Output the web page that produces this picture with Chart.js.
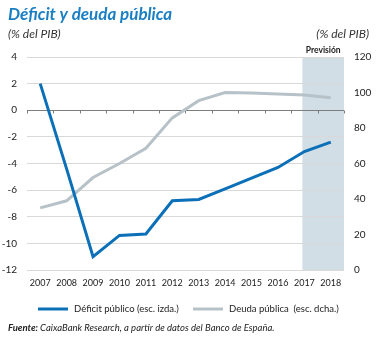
<!DOCTYPE html>
<html>
<head>
<meta charset="utf-8">
<script src="https://cdn.jsdelivr.net/npm/chart.js@4/dist/chart.umd.min.js"></script>
<style>
  html, body { margin: 0; padding: 0; background: #fff; }
  #wrap { position: relative; width: 379px; height: 338px; }
</style>
</head>
<body>
<div id="wrap"><canvas id="chart" width="379" height="338"></canvas></div>
<script>
// Déficit y deuda pública (% del PIB)
const years = ["2007", "2008", "2009", "2010", "2011", "2012", "2013", "2014", "2015", "2016", "2017", "2018"];
const deficit = [2.0, -4.4, -11.0, -9.4, -9.3, -6.8, -6.7, -5.9, -5.1, -4.3, -3.1, -2.4];
const deuda = [35.0, 39.0, 52.1, 60.0, 68.6, 85.7, 95.4, 100.0, 99.7, 99.2, 98.6, 97.1];
const leftTicks = [4, 2, 0, -2, -4, -6, -8, -10, -12];
const rightTicks = [120, 100, 80, 60, 40, 20, 0];
const forecastFrom = "2017";

const BLUE = "#0c70b8";
const GREY = "#b7c2c8";
const FONT = "Lato, 'Open Sans', sans-serif";

// shaded forecast band + zero axis with tick marks
const decor = {
  id: "decor",
  beforeDraw(chart) {
    const { ctx, chartArea: a, scales: { x } } = chart;
    const x0 = x.getPixelForValue(years.indexOf(forecastFrom)) - 2;
    ctx.save();
    ctx.fillStyle = "#d2dee6";
    ctx.fillRect(x0, a.top, a.right - x0, a.bottom - a.top);
    ctx.restore();
  },
  beforeDatasetsDraw(chart) {
    const { ctx, chartArea: a, scales: { x, y } } = chart;
    const y0 = Math.round(y.getPixelForValue(0)) + 0.5;
    ctx.save();
    ctx.strokeStyle = "#7d7d7d";
    ctx.lineWidth = 1;
    ctx.beginPath();
    ctx.moveTo(a.left, y0);
    ctx.lineTo(a.right, y0);
    const half = (x.getPixelForValue(1) - x.getPixelForValue(0)) / 2;
    for (let i = 0; i <= years.length; i++) {
      const px = Math.round(x.getPixelForValue(i) - half) + 0.5;
      ctx.moveTo(px, y0);
      ctx.lineTo(px, y0 + 3);
    }
    ctx.stroke();
    ctx.restore();
  },
  afterDraw(chart) {
    const { ctx, chartArea: a, scales: { x } } = chart;
    ctx.save();
    ctx.textBaseline = "alphabetic";
    // title
    ctx.fillStyle = "#1a7fc3";
    ctx.font = "italic bold 17px " + FONT;
    ctx.fillText("Déficit y deuda pública", 8, 20);
    // axis units
    ctx.fillStyle = "#333";
    ctx.font = "italic 12px " + FONT;
    ctx.fillText("(% del PIB)", 8, 38);
    ctx.textAlign = "right";
    ctx.fillText("(% del PIB)", 369, 38);
    // forecast label
    ctx.textAlign = "center";
    ctx.font = "bold 8.5px " + FONT;
    ctx.fillStyle = "#222";
    const x0 = x.getPixelForValue(years.indexOf(forecastFrom)) - 2;
    ctx.fillText("Previsión", (x0 + a.right) / 2, 53);
    // legend
    ctx.textAlign = "left";
    ctx.font = "9.5px " + FONT;
    ctx.lineWidth = 3;
    ctx.strokeStyle = BLUE;
    ctx.beginPath(); ctx.moveTo(38, 309); ctx.lineTo(68, 309); ctx.stroke();
    ctx.strokeStyle = GREY;
    ctx.beginPath(); ctx.moveTo(193, 309); ctx.lineTo(223, 309); ctx.stroke();
    ctx.fillStyle = "#222";
    ctx.fillText("Déficit público (esc. izda.)", 74, 312);
    ctx.fillText("Deuda pública  (esc. dcha.)", 229, 312);
    // source
    ctx.font = "italic bold 9.5px " + FONT;
    ctx.fillText("Fuente:", 8, 331);
    const w = ctx.measureText("Fuente: ").width;
    ctx.font = "italic 9.5px " + FONT;
    ctx.fillText("CaixaBank Research, a partir de datos del Banco de España.", 8 + w, 331);
    ctx.restore();
  }
};

new Chart(document.getElementById("chart"), {
  type: "line",
  data: {
    labels: years,
    datasets: [
      { label: "Déficit público (esc. izda.)", data: deficit, yAxisID: "y",
        borderColor: BLUE, borderWidth: 3, pointRadius: 0, tension: 0 },
      { label: "Deuda pública  (esc. dcha.)", data: deuda, yAxisID: "y1",
        borderColor: GREY, borderWidth: 3, pointRadius: 0, tension: 0 }
    ]
  },
  options: {
    responsive: false,
    animation: false,
    layout: { padding: { top: 57, bottom: 48, left: 0, right: 0 } },
    plugins: { legend: { display: false }, tooltip: { enabled: false } },
    scales: {
      x: {
        offset: true,
        grid: { display: false, drawTicks: false },
        border: { display: false },
        ticks: { color: "#222", font: { family: FONT, size: 9 }, padding: 8, maxRotation: 0, autoSkip: false },
        afterFit(s) { s.height = 20; }
      },
      y: {
        position: "left",
        min: -12, max: 4,
        afterBuildTicks(s) { s.ticks = leftTicks.map(v => ({ value: v })); },
        grid: { color: "#d9d9d9", lineWidth: 1, drawTicks: false },
        border: { display: false },
        ticks: { color: "#222", font: { family: FONT, size: 10 }, padding: 10 },
        afterFit(s) { s.width = 27; }
      },
      y1: {
        position: "right",
        min: 0, max: 120,
        afterBuildTicks(s) { s.ticks = rightTicks.map(v => ({ value: v })); },
        grid: { display: false, drawTicks: false },
        border: { display: false },
        ticks: { color: "#222", font: { family: FONT, size: 10 }, padding: 10 },
        afterFit(s) { s.width = 35; }
      }
    }
  },
  plugins: [decor]
});
</script>
</body>
</html>
